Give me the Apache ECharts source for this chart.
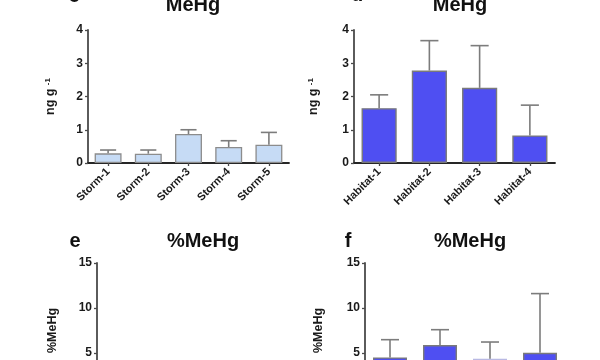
<!DOCTYPE html>
<html><head><meta charset="utf-8">
<script src="https://cdn.jsdelivr.net/npm/echarts@6/dist/echarts.min.js"></script>
<style>html,body{margin:0;padding:0;background:#fff}#c{width:600px;height:360px}</style>
</head><body><div id="c"></div>
<script>
// ---- data ----
const stormCats = ['Storm-1', 'Storm-2', 'Storm-3', 'Storm-4', 'Storm-5'];
const stormMeHg = [0.29, 0.28, 0.87, 0.48, 0.55];
const stormMeHgSD = [0.10, 0.11, 0.13, 0.19, 0.37];
const habitatCats = ['Habitat-1', 'Habitat-2', 'Habitat-3', 'Habitat-4'];
const habitatMeHg = [1.65, 2.78, 2.26, 0.83];
const habitatMeHgSD = [0.40, 0.90, 1.27, 0.91];
const habitatPctMeHg = [4.51, 5.89, 4.37, 5.03];
const habitatPctMeHgSD = [1.97, 1.70, 1.85, 6.57];
const meHgTicks = [0, 1, 2, 3, 4];
const pctTicks = [0, 5, 10, 15];
const panelTitles = ['MeHg', 'MeHg', '%MeHg', '%MeHg'];
const panelLetters = ['c', 'd', 'e', 'f'];

// ---- styles ----
const FONT = "'Liberation Sans', Arial, sans-serif";
const AXIS_C = '#4a4a4a';
const ERR_C = '#7c7c7c';
const lightBlue = '#c6dbf5';
const blue = '#4f4ff2';
const pctFills = [blue, blue, '#eeeefc', blue];
const pctBorders = ['#7a7a7a', '#7a7a7a', '#b9b9e3', '#7a7a7a'];

const chart = echarts.init(document.getElementById('c'), null, {renderer: 'canvas'});

function yAxis(idx, ticks, name, gap, rich, nameSize) {
  return {
    type: 'value', gridIndex: idx,
    min: ticks[0], max: ticks[ticks.length - 1], interval: ticks[1] - ticks[0],
    splitLine: {show: false},
    axisLine: {show: true, lineStyle: {color: AXIS_C, width: 1.8}},
    axisTick: {show: true, length: 3, lineStyle: {color: AXIS_C, width: 1.3}},
    axisLabel: {color: '#1a1a1a', fontFamily: FONT, fontWeight: 'bold', fontSize: 12, margin: 5},
    name: name, nameLocation: 'middle', nameRotate: 90, nameGap: gap,
    nameTextStyle: {color: '#1a1a1a', fontFamily: FONT, fontWeight: 'bold', fontSize: nameSize, rich: rich}
  };
}
function xAxis(idx, cats) {
  return {
    type: 'category', gridIndex: idx, data: cats,
    axisLine: {show: true, lineStyle: {color: '#262626', width: 1.8}},
    axisTick: {show: true, alignWithLabel: true, length: 3, lineStyle: {color: AXIS_C, width: 1.3}},
    axisLabel: {rotate: 45, color: '#1a1a1a', fontFamily: FONT, fontWeight: 'bold', fontSize: 11, margin: 7, interval: 0}
  };
}
function errRender(capFrac) {
  return function (params, api) {
    const i = api.value(0), m = api.value(1), sd = api.value(2);
    const base = api.coord([i, m]);
    const top = api.coord([i, m + sd]);
    const band = api.size([1, 0])[0];
    const h = band * capFrac;
    return {type: 'group', children: [
      {type: 'line', shape: {x1: base[0], y1: base[1], x2: top[0], y2: top[1]}, style: {stroke: ERR_C, lineWidth: 1.6}},
      {type: 'line', shape: {x1: top[0] - h, y1: top[1], x2: top[0] + h, y2: top[1]}, style: {stroke: ERR_C, lineWidth: 1.6}}
    ]};
  };
}
const supRich = {sup: {fontSize: 8, fontWeight: 'bold', fontFamily: FONT, color: '#1a1a1a', verticalAlign: 'top', padding: [0, 0, 6, 0]}};

const titleCenters = [[188, -10], [455, -10], [198, 226], [465, 226]];
const letterPos = [[69, -19], [352, -20], [70, 226], [343, 226]];

const option = {
  animation: false,
  backgroundColor: '#fff',
  title: panelTitles.map((t, k) => ({
    text: t, left: titleCenters[k][0], top: titleCenters[k][1], textAlign: 'center',
    textStyle: {fontFamily: FONT, fontWeight: 'bold', fontSize: 20, color: '#111'}
  })).concat(panelLetters.map((t, k) => ({
    text: t, left: letterPos[k][0], top: letterPos[k][1], textAlign: 'center',
    textStyle: {fontFamily: FONT, fontWeight: 'bold', fontSize: 20, color: '#111'}
  }))),
  grid: [
    {left: 88, top: 30, width: 201, height: 133, outerBoundsMode: 'none', containLabel: false},
    {left: 354, top: 30, width: 201, height: 133, outerBoundsMode: 'none', containLabel: false},
    {left: 97, top: 263, width: 200, height: 135, outerBoundsMode: 'none', containLabel: false},
    {left: 365, top: 263, width: 200, height: 135, outerBoundsMode: 'none', containLabel: false}
  ],
  xAxis: [xAxis(0, stormCats), xAxis(1, habitatCats), xAxis(2, stormCats), xAxis(3, habitatCats)],
  yAxis: [
    yAxis(0, meHgTicks, 'ng g {sup|-1}', 30, supRich, 12.5),
    yAxis(1, meHgTicks, 'ng g {sup|-1}', 33, supRich, 12.5),
    yAxis(2, pctTicks, '%MeHg', 38, undefined, 12.5),
    yAxis(3, pctTicks, '%MeHg', 40, undefined, 12.5)
  ],
  series: [
    {type: 'bar', xAxisIndex: 0, yAxisIndex: 0, data: stormMeHg, barWidth: '67%',
     itemStyle: {color: lightBlue, borderColor: '#8c8c8c', borderWidth: 1.3}},
    {type: 'custom', xAxisIndex: 0, yAxisIndex: 0, renderItem: errRender(0.2),
     encode: {x: 0, y: 1}, data: stormCats.map((c, i) => [i, stormMeHg[i], stormMeHgSD[i]]), z: 3},
    {type: 'bar', xAxisIndex: 1, yAxisIndex: 1, data: habitatMeHg, barWidth: '70%',
     itemStyle: {color: blue, borderColor: '#7a7a7a', borderWidth: 1.4}},
    {type: 'custom', xAxisIndex: 1, yAxisIndex: 1, renderItem: errRender(0.18),
     encode: {x: 0, y: 1}, data: habitatCats.map((c, i) => [i, habitatMeHg[i], habitatMeHgSD[i]]), z: 3},
    {type: 'bar', xAxisIndex: 3, yAxisIndex: 3, barWidth: '68%',
     data: habitatPctMeHg.map((v, i) => ({value: v, itemStyle: {color: pctFills[i], borderColor: pctBorders[i], borderWidth: 1.4}}))},
    {type: 'custom', xAxisIndex: 3, yAxisIndex: 3, renderItem: errRender(0.18),
     encode: {x: 0, y: 1}, data: habitatCats.map((c, i) => [i, habitatPctMeHg[i], habitatPctMeHgSD[i]]), z: 3}
  ]
};
chart.setOption(option);
</script></body></html>
